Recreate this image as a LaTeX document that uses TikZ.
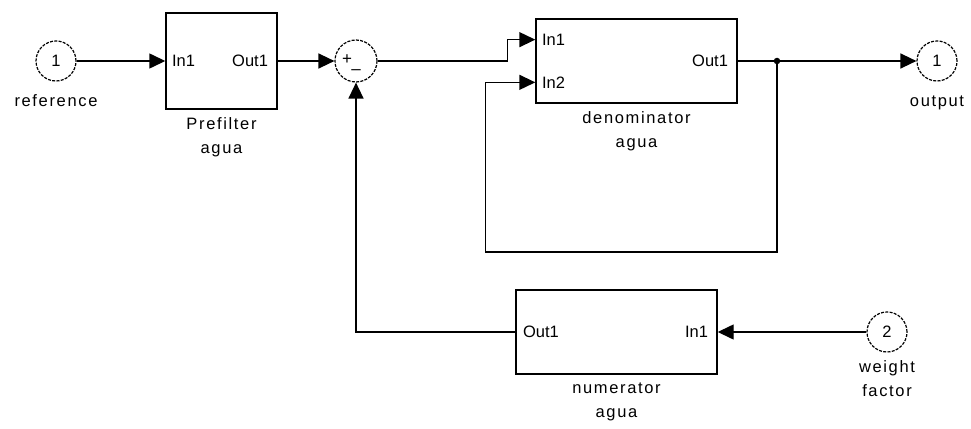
\documentclass[tikz,border=0pt]{standalone}
\usepackage{fontspec}
\setmainfont{Liberation Sans}
\newfontfamily\blockfont[LetterSpace=10]{Liberation Sans}
\usetikzlibrary{arrows.meta,positioning,calc}

\begin{document}
\begin{tikzpicture}[
  x=1pt,y=-1pt,
  line width=1.4pt,
  block/.style={draw,inner sep=0pt},
  port/.style={draw,circle,line width=1.2pt,dash pattern=on 3pt off 1.3pt,
    minimum size=40pt,inner sep=0pt,font=\fontsize{16.5}{20}\selectfont},
  sumnode/.style={port,minimum size=42pt},
  sign/.style={inner sep=0pt,font=\fontsize{17}{20}\selectfont},
  dot/.style={circle,fill,inner sep=0pt,minimum size=6.5pt},
  portlbl/.style={inner sep=0pt,font=\fontsize{16.5}{20}\selectfont},
  lbl/.style={inner sep=0pt,align=center,font=\blockfont\fontsize{16.5}{24}\selectfont,
    execute at begin node=\strut},
  arrow/.style={-{Triangle[length=16pt,width=15pt]}}
]
\useasboundingbox (0,0) rectangle (971,428);

% input and prefilter
\node[port] (ref) at (56,61) {1};
\node[lbl,below=7.2pt of ref] (reflbl) {reference};
\node[block,minimum width=111pt,minimum height=96pt] (pre) at (221.5,61) {};
\node[portlbl,anchor=west] (prein) at ([xshift=6pt]pre.west) {In1};
\node[portlbl,anchor=east] (preout) at ([xshift=-9pt]pre.east) {Out1};
\node[lbl,below=7.2pt of pre] (prelbl) {Prefilter\\agua};

% sum
\node[sumnode] (sum) at (356,61) {};
\node[sign] (sumplus) at (347,60) {+};
\node[sign] (summinus) at (356,72) {--};

% denominator
\node[block,minimum width=201pt,minimum height=84pt] (den) at (636.5,61) {};
\coordinate (den-in1) at ($(den.north west)!.25!(den.south west)$);
\coordinate (den-in2) at ($(den.north west)!.75!(den.south west)$);
\node[portlbl,anchor=west] (denin1) at ([xshift=6pt]den-in1) {In1};
\node[portlbl,anchor=west] (denin2) at ([xshift=6pt]den-in2) {In2};
\node[portlbl,anchor=east] (denout) at ([xshift=-9pt]den.east) {Out1};
\node[lbl,below=7.2pt of den] (denlbl) {denominator\\agua};

% output
\node[dot] (branch) at (777,61) {};
\node[port] (out) at (937,61) {1};
\node[lbl,below=7.2pt of out] (outlbl) {output};

% numerator
\node[block,minimum width=201pt,minimum height=84pt] (num) at (616.5,332) {};
\node[portlbl,anchor=west] (numout) at ([xshift=7pt]num.west) {Out1};
\node[portlbl,anchor=east] (numin) at ([xshift=-9pt]num.east) {In1};
\node[lbl,below=7.2pt of num] (numlbl) {numerator\\agua};
\node[port] (wf) at (887,332) {2};
\node[lbl,below=7.2pt of wf] (wflbl) {weight\\factor};

\draw[arrow] (ref) -- (pre.west);
\draw[arrow] (pre.east) -- (sum.west);
\draw[arrow] (sum.east) -- ++(130,0) |- (den-in1);
\draw[arrow] (den.east) -- (out);
\draw[arrow] (branch.center) -- ++(0,191) -| ([xshift=-50pt]den-in2) -- (den-in2);
\draw[arrow] (num.west) -| (sum.south);
\draw[arrow] (wf) -- (num.east);
\end{tikzpicture}
\end{document}
